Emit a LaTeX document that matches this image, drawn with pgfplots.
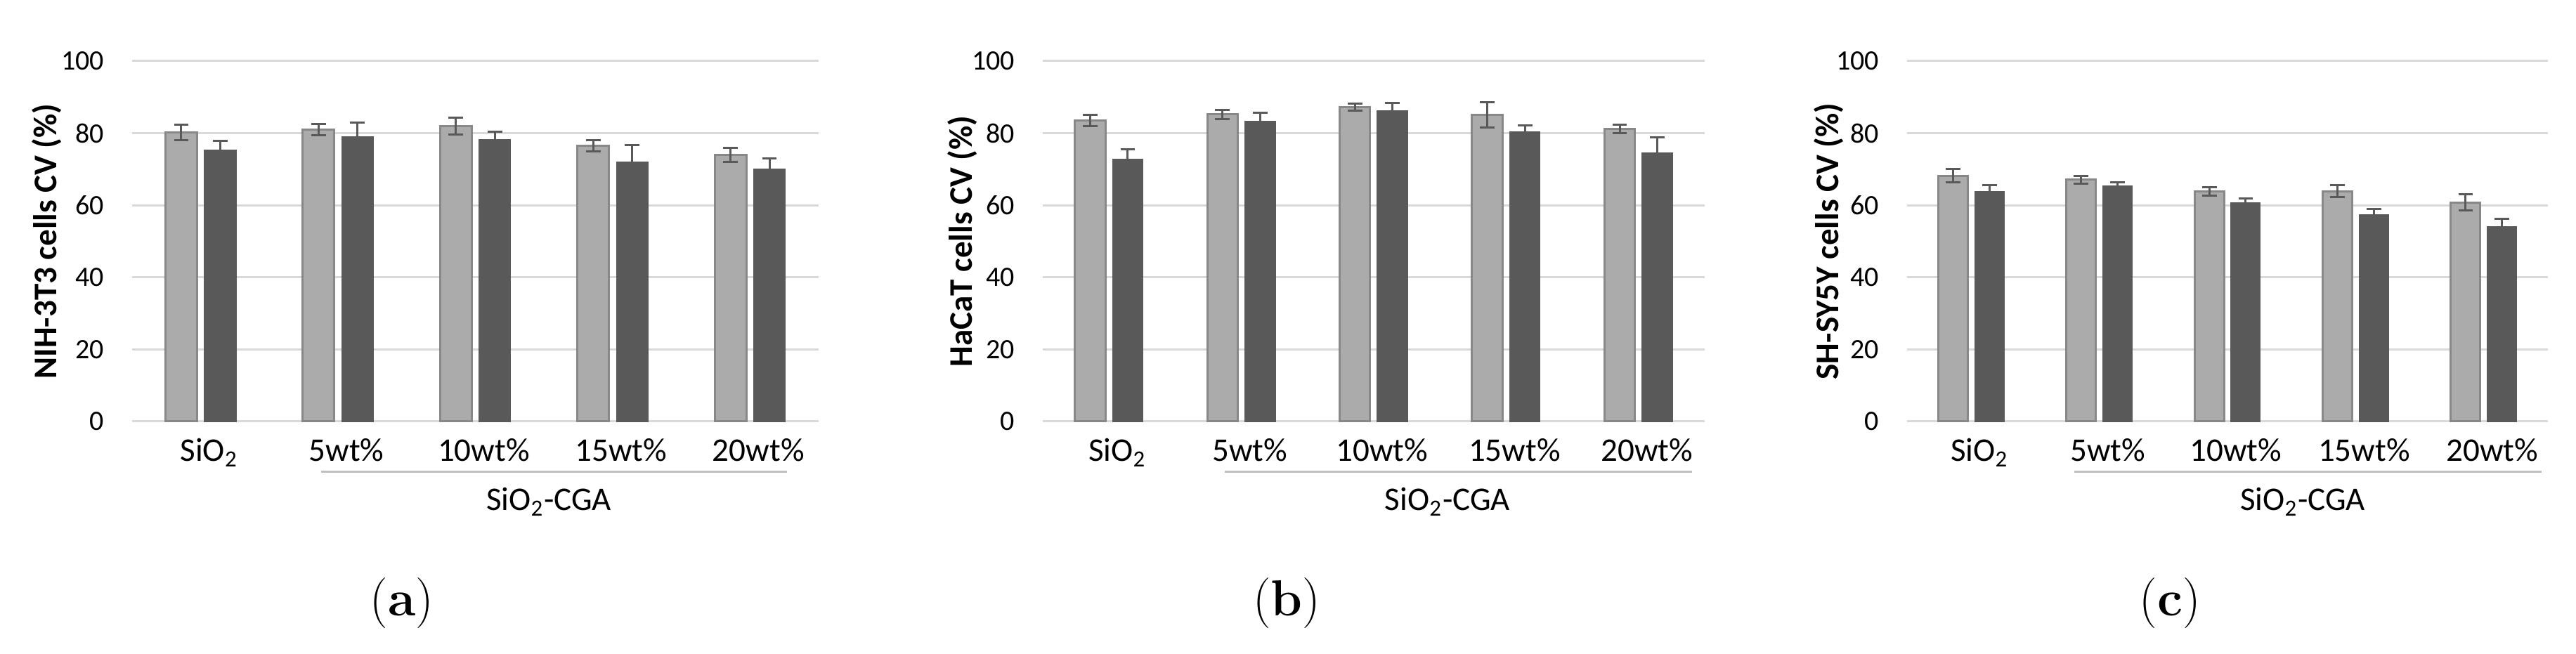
\documentclass[border=0pt]{standalone}
\usepackage{pgfplots}
\pgfplotsset{compat=1.18}
\usepackage{pgfplotstable}
\usepackage{fontspec}
\setsansfont{Carlito}
\definecolor{lightbar}{HTML}{ABABAB}
\definecolor{lightedge}{HTML}{888888}
\definecolor{darkbar}{HTML}{595959}
\definecolor{errc}{HTML}{595959}
\definecolor{gridc}{HTML}{D9D9D9}
\definecolor{bracketc}{HTML}{BFBFBF}

\pgfplotstableread{
x L Le D De
0 80.2 2.1 75.4 2.5
1 81.0 1.5 79.0 3.9
2 82.0 2.3 78.3 2.1
3 76.5 1.6 72.0 4.7
4 74.0 1.9 70.1 2.9
}\dataA
\pgfplotstableread{
x L Le D De
0 83.5 1.5 72.8 2.7
1 85.2 1.2 83.4 2.2
2 87.2 1.0 86.3 2.1
3 85.1 3.5 80.4 1.7
4 81.2 1.1 74.5 4.3
}\dataB
\pgfplotstableread{
x L Le D De
0 68.2 1.8 63.8 1.8
1 67.1 1.1 65.3 1.1
2 63.9 1.2 60.7 1.2
3 63.9 1.7 57.3 1.6
4 60.8 2.3 54.0 2.2
}\dataC

\pgfplotsset{
  panel/.style={
    scale only axis, height=128.25pt, anchor=south west,
    xmin=-0.5, xmax=4.5, ymin=0, ymax=100,
    ytick={0,20,...,100}, xtick={0,...,4},
    xticklabels={SiO\textsubscript{2},5wt\%,10wt\%,15wt\%,20wt\%},
    ymajorgrids, grid style={draw=gridc, line width=0.75pt},
    axis line style={draw=none},
    major tick length=0pt,
    tick label style={font=\sffamily\fontsize{10}{12}\selectfont},
    xticklabel style={font=\sffamily\fontsize{11.75}{14}\selectfont, anchor=base, yshift=-14.25pt, xshift=3pt},
    yticklabel style={xshift=-6.5pt},
    /pgf/number format/assume math mode=true,
    ylabel style={font=\sffamily\bfseries\fontsize{11.75}{14}\selectfont, anchor=center},
    clip=false,
    ybar, bar width=0.23,
  },
  lightplot/.style={fill=lightbar, draw=lightedge, line width=0.75pt, bar shift=-0.142,
    error bars/.cd, y dir=both, y explicit,
    error bar style={draw=errc, line width=0.75pt},
    error mark options={rotate=90, mark size=2.6pt, line width=0.75pt, draw=errc}},
  darkplot/.style={fill=darkbar, draw=darkbar, line width=0.3pt, bar shift=0.142,
    error bars/.cd, y dir=plus, y explicit,
    error bar style={draw=errc, line width=0.75pt},
    error mark options={rotate=90, mark size=2.6pt, line width=0.75pt, draw=errc}},
}

\begin{document}
\begin{tikzpicture}
\path[use as bounding box] (0,0) rectangle (916.5pt,232.75pt);

% (a)
\begin{axis}[panel, at={(47pt,82.75pt)}, width=244.25pt,
  ylabel={NIH-3T3 cells CV (\%)},
  ylabel style={at={(axis description cs:-0.1238,0.5)}}]
\addplot[lightplot] table[x=x, y=L, y error=Le] {\dataA};
\addplot[darkplot] table[x=x, y=D, y error=De] {\dataA};
\draw[bracketc, line width=0.75pt] ([yshift=-18pt]axis cs:0.877,0) -- ([yshift=-18pt]axis cs:4.27,0);
\node[font=\sffamily\fontsize{11.75}{14}\selectfont, anchor=base] at ([yshift=-31.75pt]axis cs:2.535,0) {SiO\textsubscript{2}-CGA};
\end{axis}

% (b)
\begin{axis}[panel, at={(371pt,82.75pt)}, width=235.5pt,
  ylabel={HaCaT cells CV (\%)},
  ylabel style={at={(axis description cs:-0.121,0.5)}}]
\addplot[lightplot] table[x=x, y=L, y error=Le] {\dataB};
\addplot[darkplot] table[x=x, y=D, y error=De] {\dataB};
\draw[bracketc, line width=0.75pt] ([yshift=-18pt]axis cs:0.875,0) -- ([yshift=-18pt]axis cs:4.405,0);
\node[font=\sffamily\fontsize{11.75}{14}\selectfont, anchor=base] at ([yshift=-31.75pt]axis cs:2.557,0) {SiO\textsubscript{2}-CGA};
\end{axis}

% (c)
\begin{axis}[panel, at={(678.5pt,82.75pt)}, width=228pt,
  ylabel={SH-SY5Y cells CV (\%)},
  ylabel style={at={(axis description cs:-0.1217,0.5)}}]
\addplot[lightplot] table[x=x, y=L, y error=Le] {\dataC};
\addplot[darkplot] table[x=x, y=D, y error=De] {\dataC};
\draw[bracketc, line width=0.75pt] ([yshift=-18pt]axis cs:0.805,0) -- ([yshift=-18pt]axis cs:4.45,0);
\node[font=\sffamily\fontsize{11.75}{14}\selectfont, anchor=base] at ([yshift=-31.75pt]axis cs:2.587,0) {SiO\textsubscript{2}-CGA};
\end{axis}

\node[anchor=base, font=\fontsize{18}{20}\selectfont] at (143pt,13.5pt) {(\textbf{a})};
\node[anchor=base, font=\fontsize{18}{20}\selectfont] at (457.75pt,13.5pt) {(\textbf{b})};
\node[anchor=base, font=\fontsize{18}{20}\selectfont] at (772pt,13.5pt) {(\textbf{c})};
\end{tikzpicture}
\end{document}
